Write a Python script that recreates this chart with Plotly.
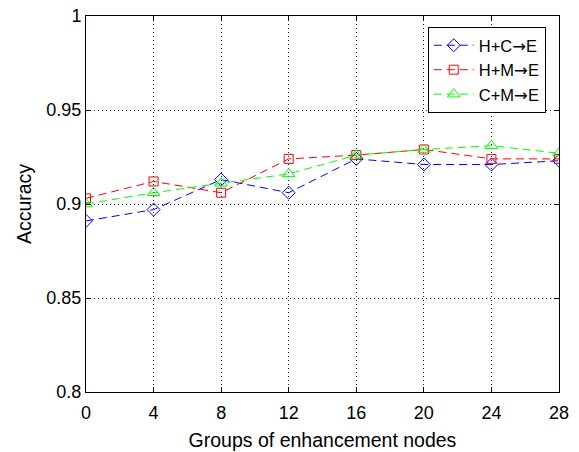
import plotly.graph_objects as go

x_vals = [0, 4, 8, 12, 16, 20, 24, 28]
hc_e = [0.891, 0.897, 0.913, 0.906, 0.924, 0.921, 0.921, 0.923]
hm_e = [0.903, 0.912, 0.906, 0.924, 0.926, 0.929, 0.924, 0.924]
cm_e = [0.900, 0.906, 0.911, 0.916, 0.926, 0.929, 0.931, 0.927]
arrow = '<span style="font-family:DejaVu Sans">→</span>'
names = ["H+C" + arrow + "E", "H+M" + arrow + "E", "C+M" + arrow + "E"]
colors = ["#0000ff", "#ff0000", "#00ff00"]
symbols = ["diamond-open", "square-open", "triangle-up-open"]
sizes = [10, 9, 11]

fig = go.Figure()
for ys, nm, c, s, sz in zip([hc_e, hm_e, cm_e], names, colors, symbols, sizes):
    fig.add_trace(go.Scatter(
        x=x_vals, y=ys, name=nm, mode="lines+markers",
        line=dict(color=c, width=1, dash="8px,5px"),
        marker=dict(symbol=s, size=sz, color=c, line=dict(color=c, width=1)),
    ))

axis_common = dict(
    showline=True, linecolor="black", linewidth=1, mirror="ticks",
    ticks="inside", ticklen=5, tickcolor="black", automargin=False,
    showgrid=True, gridcolor="#222222", griddash="1px,3px", gridwidth=1,
    zeroline=False, tickfont=dict(size=18, color="black"),
)

fig.update_layout(
    width=579, height=452,
    margin=dict(l=86, r=20, t=16, b=60),
    plot_bgcolor="white", paper_bgcolor="white",
    font=dict(family="Liberation Sans, Arial, sans-serif", color="black"),
    xaxis=dict(range=[0, 28], tickvals=x_vals, ticktext=[str(v) for v in x_vals],
               ticklabelstandoff=4,
               title=dict(text="Groups of enhancement nodes", font=dict(size=19.5), standoff=11),
               **axis_common),
    yaxis=dict(range=[0.8, 1.0], tickvals=[0.8, 0.85, 0.9, 0.95, 1.0],
               ticktext=["0.8", "0.85", "0.9", "0.95", "1"],
               title=dict(text="Accuracy", font=dict(size=19.5), standoff=9),
               **axis_common),
    legend=dict(x=0.972, y=0.9707, xanchor="right", yanchor="top",
                bgcolor="white", bordercolor="black", borderwidth=1,
                font=dict(size=16.5), itemwidth=40, tracegroupgap=0),
    showlegend=True,
)

fig.write_html("out.html")
